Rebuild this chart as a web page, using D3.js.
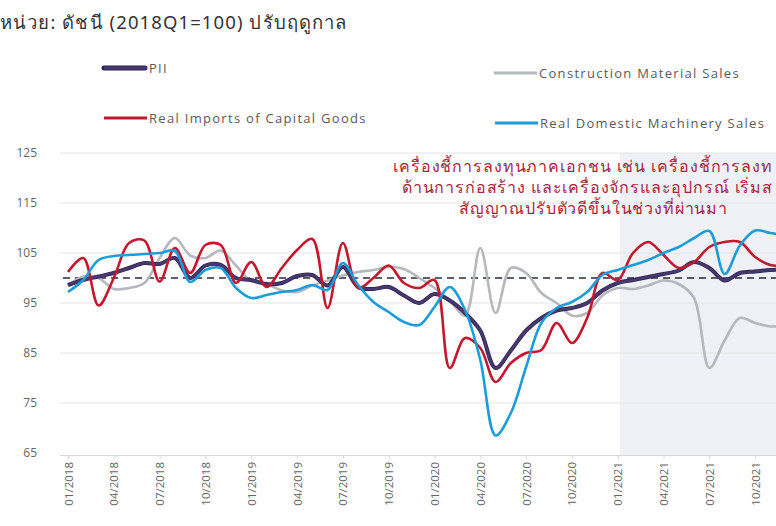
<!DOCTYPE html>
<html>
<head>
<meta charset="utf-8">
<script src="https://cdn.jsdelivr.net/npm/d3@7"></script>
<style>
  html, body { margin: 0; padding: 0; background: #fff; }
  svg { display: block; }
</style>
</head>
<body>
<svg id="chart" width="776" height="526"></svg>
<script>
const months = ["01/2018","02/2018","03/2018","04/2018","05/2018","06/2018","07/2018","08/2018","09/2018","10/2018","11/2018","12/2018",
  "01/2019","02/2019","03/2019","04/2019","05/2019","06/2019","07/2019","08/2019","09/2019","10/2019","11/2019","12/2019",
  "01/2020","02/2020","03/2020","04/2020","05/2020","06/2020","07/2020","08/2020","09/2020","10/2020","11/2020","12/2020",
  "01/2021","02/2021","03/2021","04/2021","05/2021","06/2021","07/2021","08/2021","09/2021","10/2021","11/2021","12/2021"];
const tickLabels = ["01/2018","04/2018","07/2018","10/2018","01/2019","04/2019","07/2019","10/2019","01/2020","04/2020","07/2020","10/2020","01/2021","04/2021","07/2021","10/2021"];
const yTicks = [65, 75, 85, 95, 105, 115, 125];

const pii = [98.6,99.6,100.3,101,102,103,102.8,104,100,102.5,102.6,100,
  99.6,98.8,99,100.4,100.6,98.5,102.2,98.2,97.8,98.2,96.5,95,
  96.8,95.5,93,89.5,82,85.5,89.5,92,93.5,94,95,97.5,
  99,99.6,100.2,100.8,101.5,103.2,102,99.5,101,101.3,101.6,101.7];
const construction = [98.5,100.3,100,97.8,98,99,104,108,104.5,104,105.5,102.5,
  99.4,98.8,97.5,97.2,98.5,99.5,100.5,101.2,101.6,102.2,101.8,100,
  98,95.5,92.5,106,93,102,101,97,95,92.5,93,96.5,
  98,97.8,98.5,99.5,98.8,96,82,87.5,92,91,90.3,90.5];
const imports = [101.2,104,94.5,100,107,107.5,99.3,106,101,106.6,106.6,99,
  103.2,98.2,102,105.6,107.8,94,107,98,100,102.5,99,98,
  99.6,82,88,86,79.2,83,85,85.6,91,87,92,101,
  99.6,105,107.2,104.6,102,103.2,106.2,107.2,107.2,104.2,102.6,102.5];
const machinery = [97.2,99.6,103.6,104.4,104.6,104.8,105,105.4,99.2,101.6,102,98,
  96,96.6,97.2,97.6,98.6,97.6,103,98.6,95.2,93.2,91.2,90.6,
  94.2,98.2,93.6,83.6,68.5,73,82.2,91,94,95.2,97.2,100.6,
  101.6,102.6,103.6,105,106.2,108,109.4,100.8,106.5,109.5,109,108.5];
const baseline = 100;

const seriesNames = ["PII", "Construction Material Sales", "Real Imports of Capital Goods", "Real Domestic Machinery Sales"];
const seriesColors = ["#47386f", "#b7b8be", "#c2192f", "#1c9dd9"];
const seriesData = [pii, construction, imports, machinery];

// annotation as shown in the reference (cropped at the right edge there)
const annLines = ["เครื่องชี้การลงทุนภาคเอกชน เช่น เครื่องชี้การลงท",
  "ด้านการก่อสร้าง และเครื่องจักรและอุปกรณ์ เริ่มส",
  "สัญญาณปรับตัวดีขึ้นในช่วงที่ผ่านมา"];

const svg = d3.select("#chart");
const x = d3.scalePoint().domain(months).range([68, 68 + 47 * 15.27]);
const y = d3.scaleLinear().domain([65, 125]).range([453, 153]);

// title
svg.append("text").attr("x", 0).attr("y", 29)
  .attr("font-family", "'Noto Sans', 'DejaVu Sans', sans-serif").attr("font-size", 18.5)
  .attr("letter-spacing", 1.1)
  .attr("fill", "#333").text("หน่วย: ดัชนี (2018Q1=100) ปรับฤดูกาล");

// shaded period
svg.append("rect").attr("x", x("01/2021") + 2).attr("y", 153)
  .attr("width", 776 - x("01/2021")).attr("height", 302).attr("fill", "#f0f1f7");

// gridlines
svg.append("g").selectAll("line").data(yTicks.slice(1)).join("line")
  .attr("x1", 60).attr("x2", 776).attr("y1", d => y(d)).attr("y2", d => y(d))
  .attr("stroke", "#e4e4e4").attr("stroke-width", 1);

// y labels
svg.append("g").selectAll("text").data(yTicks).join("text")
  .attr("x", 37).attr("y", d => y(d)).attr("dy", "0.35em").attr("text-anchor", "end")
  .attr("font-family", "'Open Sans', 'DejaVu Sans', sans-serif").attr("font-size", 12)
  .attr("fill", "#666").text(d => d);

// x axis
const xAxis = d3.axisBottom(x).tickValues(tickLabels).tickSize(4).tickFormat(d => d);
const gx = svg.append("g").attr("transform", `translate(0,${y(65) + 2})`).call(xAxis);
gx.select(".domain").attr("stroke", "#d8d8d8").attr("d", `M60,0.5H776`);
gx.selectAll(".tick line").attr("stroke", "#d8d8d8");
gx.selectAll(".tick text")
  .attr("font-family", "'Open Sans', 'DejaVu Sans', sans-serif").attr("font-size", 11.5)
  .attr("fill", "#666")
  .attr("transform", "rotate(-90)")
  .attr("text-anchor", "end").attr("x", -7).attr("y", 0).attr("dy", "0.35em");

// baseline dashed
svg.append("line").attr("x1", 63).attr("x2", 776).attr("y1", y(baseline)).attr("y2", y(baseline))
  .attr("stroke", "#262a3c").attr("stroke-width", 1.5).attr("stroke-dasharray", "7,5");

// lines
const line = d3.line().x((d, i) => x(months[i])).y(d => y(d)).curve(d3.curveCatmullRom.alpha(0.5));
const order = [1, 0, 2, 3];
order.forEach(k => {
  if (k === 0) {
    svg.append("path").datum(seriesData[k]).attr("d", line).attr("fill", "none")
      .attr("stroke", "#2e2352").attr("stroke-width", 4).attr("stroke-linejoin", "round");
  }
  svg.append("path").datum(seriesData[k]).attr("d", line).attr("fill", "none")
    .attr("stroke", seriesColors[k]).attr("stroke-width", 2.6)
    .attr("stroke-linejoin", "round");
});

// annotation
const annStart = [393, 402, 459];
const annLen = [379, 370, 268];
svg.append("g").selectAll("text").data(annLines).join("text")
  .attr("x", (d, i) => annStart[i]).attr("y", (d, i) => 172 + i * 21)
  .attr("textLength", (d, i) => annLen[i]).attr("lengthAdjust", "spacing")
  .attr("font-family", "'Noto Sans', 'DejaVu Sans', sans-serif").attr("font-size", 16)
  .attr("fill", "#a8243e").text(d => d);

// legend
const legendPos = [[104, 68], [494, 73], [104, 118], [495, 123]];
const lg = svg.append("g");
seriesNames.forEach((name, k) => {
  const [lx, ly] = legendPos[k];
  if (k === 0) {
    lg.append("line").attr("x1", lx).attr("x2", lx + 41).attr("y1", ly).attr("y2", ly)
      .attr("stroke", "#2e2352").attr("stroke-width", 5).attr("stroke-linecap", "round");
  }
  lg.append("line").attr("x1", lx).attr("x2", lx + 43).attr("y1", ly).attr("y2", ly)
    .attr("stroke", seriesColors[k]).attr("stroke-width", 3);
  lg.append("text").attr("x", lx + 45).attr("y", ly).attr("dy", "0.35em")
    .attr("font-family", "'Open Sans', 'DejaVu Sans', sans-serif").attr("font-size", 13)
    .attr("letter-spacing", 1.3).attr("fill", "#5a5a5a").text(name);
});
</script>
</body>
</html>
